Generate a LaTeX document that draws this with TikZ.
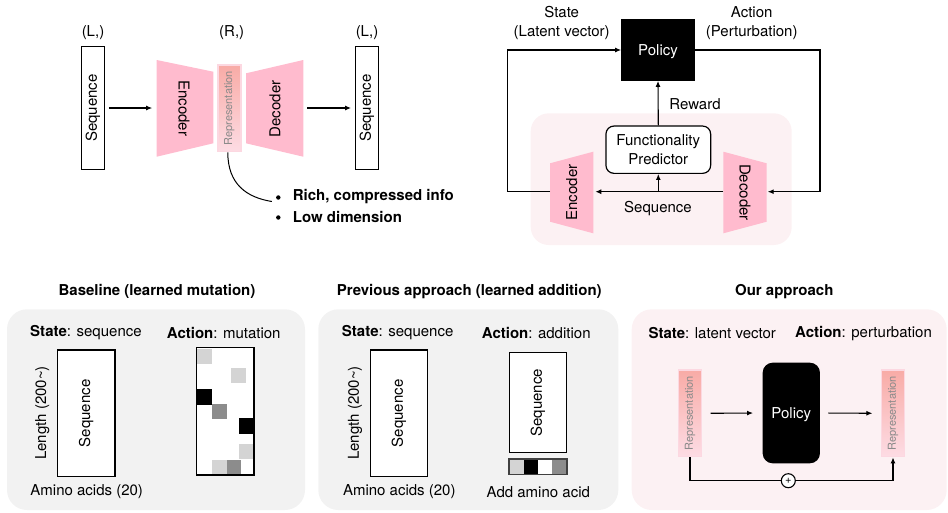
\documentclass[tikz,border=0pt]{standalone}
\usepackage{fontspec}
\usepackage{graphicx}
\setmainfont{TeX Gyre Heros}
\usetikzlibrary{arrows.meta,calc}
\definecolor{trappink}{HTML}{FFBBCE}
\definecolor{reptop}{HTML}{F8ABA6}
\definecolor{repbot}{HTML}{FDDCE4}
\definecolor{repedge}{HTML}{FCD8E1}
\definecolor{repgray}{HTML}{8A8A8A}
\definecolor{panelgray}{HTML}{F2F2F2}
\definecolor{panelpink}{HTML}{FCF1F3}
\definecolor{cellgray}{HTML}{D4D4D4}
\definecolor{cellmid}{HTML}{8C8C8C}
\newcommand\bodyfont{\fontsize{15}{19.5}\selectfont}
\newcommand\myreptxt{\rotatebox{90}{\fontsize{11}{13}\selectfont\color{repgray}Representation}}
\begin{document}
\begin{tikzpicture}[x=1pt,y=-1pt,
  font=\bodyfont,
  every node/.style={inner sep=0pt},
  seqbox/.style={draw=black, line width=1.3pt, fill=white, inner sep=0pt},
  arr/.style={-{Latex[length=6pt,width=5pt]}, line width=1.1pt},
  conn/.style={line width=1.1pt},
  trap/.style={fill=trappink},
  repbox/.style={draw=repedge, line width=1.5pt, top color=reptop, bottom color=repbot, minimum width=23pt, minimum height=86.7pt, inner sep=0pt},
  boldtxt/.style={font=\bodyfont\bfseries},
  bulletdot/.style={circle, fill=black, minimum size=4.4pt},
  policybox/.style={fill=black, text=white, text depth=0pt},
  panel/.style={rounded corners=20pt},
]
\useasboundingbox (0,0) rectangle (948,512);

% ---------------- Top-left: autoencoder ----------------
\node[seqbox, minimum width=22.6pt, minimum height=122.6pt] (seqA) at (93,108) {\rotatebox{90}{Sequence}};
\node (lA) at (93,33) {(L,)};
\path[trap] (156.7,60) -- (213.3,71.7) -- (213.3,143.3) -- (156.7,156.7) -- cycle;
\node[rotate=-90] (encA) at (184,108.3) {Encoder};
\node[repbox] (repA) at (229.3,108.3) {\myreptxt};
\node (rA) at (231.7,33) {(R,)};
\path[trap] (246,73.3) -- (303.3,60) -- (303.3,156.7) -- (246,143.3) -- cycle;
\node[rotate=90] (decA) at (275,109) {Decoder};
\node[seqbox, minimum width=22.6pt, minimum height=122.6pt] (seqB) at (367,108) {\rotatebox{90}{Sequence}};
\node (lB) at (367,33) {(L,)};
\coordinate (encAin) at (156.7,108);
\coordinate (decAout) at (303.3,108);
\draw[arr, shorten <=4pt, shorten >=4.5pt] (seqA.east) -- (encAin);
\draw[arr, shorten <=4pt, shorten >=4pt] (decAout) -- (seqB.west);
\node[bulletdot] (bul1) at (278.3,197.5) {};
\node[anchor=west, boldtxt] (txt1) at (292.7,196.7) {Rich, compressed info};
\node[bulletdot] (bul2) at (278.3,217.5) {};
\node[anchor=west, boldtxt] (txt2) at (292.7,216.7) {Low dimension};
\draw[line width=1pt] ($(repA.south)+(-1.5,0)$) .. controls +(0,32) and +(-25,-4) .. ($(bul1.west)+(-4,4)$);

% ---------------- Top-right: RL loop ----------------
\path[fill=panelpink, rounded corners=18pt] (530.7,113.3) rectangle (791.7,245);
\node[align=center] (stateL) at (561.7,23.2) {State\\(Latent vector)};
\node[align=center] (actL) at (751.7,23.2) {Action\\(Perturbation)};
\node[policybox, minimum width=73.3pt, minimum height=61.4pt] (polA) at (658,50) {Policy};
\node[draw, line width=1.2pt, rounded corners=8pt, fill=white, minimum width=104.7pt, minimum height=47.3pt, align=center] (fp) at (658.3,149.7) {Functionality\\Predictor};
\path[trap] (550,163.3) -- (593.3,151.7) -- (593.3,233.3) -- (550,221.7) -- cycle;
\node[rotate=90] (encB) at (571.7,192.5) {Encoder};
\path[trap] (723.3,151.7) -- (766.7,163.3) -- (766.7,221.7) -- (723.3,233.3) -- cycle;
\node[rotate=-90] (decB) at (745,192.5) {Decoder};
\coordinate (encBl) at (550,191.7);
\coordinate (encBr) at (593.3,191.7);
\coordinate (decBl) at (723.3,191.7);
\coordinate (decBr) at (766.7,191.7);
\coordinate (loopL) at (507.3,50);
\coordinate (loopR) at (820,50);
\coordinate (br) at (658.3,191.7);
\draw[arr] (encBl) -| (loopL) -- (polA.west);
\draw[arr, shorten >=1pt] (polA.east) -- (loopR) |- (decBr);
\draw[arr, shorten >=2pt] (decBl) -- (encBr);
\draw[arr] (br) -- (fp.south);
\draw[arr] (fp.north) -- (polA.south);
\node (rew) at (695,104) {Reward};
\node (seqlab) at (658,208.3) {Sequence};

% ---------------- Bottom titles ----------------
\node[boldtxt] (t1) at (157,291.7) {Baseline (learned mutation)};
\node[boldtxt] (t2) at (469.3,291.7) {Previous approach (learned addition)};
\node[boldtxt] (t3) at (784.3,291.7) {Our approach};

% ---------------- Panel 1 ----------------
\path[panel, fill=panelgray] (7,309.3) rectangle (305,510);
\node[anchor=west] (s1) at (30,332.7) {\textbf{State}: sequence};
\node[anchor=west] (a1) at (166.7,332.7) {\textbf{Action}: mutation};
\node[seqbox, minimum width=57.7pt, minimum height=126.7pt] (seqC) at (86.2,413.3) {\rotatebox{90}{Sequence}};
\node[rotate=90] (len1) at (42.3,413) {Length (200\textasciitilde)};
\node (aa1) at (86.7,491.7) {Amino acids (20)};
\node[fill=white, minimum width=57.3pt, minimum height=127.7pt] (mutgrid) at (225.35,411.15) {};
\fill[cellgray] (196.7,349) rectangle (211.7,364);
\fill[cellgray] (231,367.7) rectangle (246,382.7);
\fill[black] (196.7,389.3) rectangle (211.7,405);
\fill[cellmid] (211.7,404.3) rectangle (226.7,419.3);
\fill[black] (239,418.3) rectangle (254,434);
\fill[cellgray] (239,444.3) rectangle (254,459.3);
\fill[cellgray] (211.7,460) rectangle (226.7,475);
\fill[cellmid] (226.7,460) rectangle (240.7,475);
\node[draw=black, line width=1.4pt, minimum width=57.3pt, minimum height=127.7pt] (mutframe) at (mutgrid.center) {};

% ---------------- Panel 2 ----------------
\path[panel, fill=panelgray] (318.3,309.3) rectangle (618.3,510);
\node[anchor=west] (s2) at (341.7,332.7) {\textbf{State}: sequence};
\node[anchor=west] (a2) at (481.7,332.7) {\textbf{Action}: addition};
\node[seqbox, minimum width=56.6pt, minimum height=126.7pt] (seqD) at (399,413.3) {\rotatebox{90}{Sequence}};
\node[rotate=90] (len2) at (355,413) {Length (200\textasciitilde)};
\node (aa2) at (399.3,491.7) {Amino acids (20)};
\node[seqbox, minimum width=57.4pt, minimum height=100pt] (seqE) at (538,402.7) {\rotatebox{90}{Sequence}};
\node[fill=white, minimum width=57.4pt, minimum height=14.7pt] (strip) at (538,466.65) {};
\fill[cellgray] (509.3,459.3) rectangle (523.65,474);
\fill[black] (523.65,459.3) rectangle (538,474);
\fill[cellmid] (552.35,459.3) rectangle (566.7,474);
\draw[line width=1.4pt, draw=black!75] (strip.north west) rectangle (strip.south east);
\node (add) at (538.3,491.7) {Add amino acid};

% ---------------- Panel 3 ----------------
\path[panel, fill=panelpink] (631.7,309.3) rectangle (946.7,510);
\node[anchor=west] (s3) at (648.3,333.3) {\textbf{State}: latent vector};
\node[anchor=west] (a3) at (795,333.3) {\textbf{Action}: perturbation};
\node[repbox] (repL) at (690,413.3) {\myreptxt};
\node[policybox, rounded corners=10pt, minimum width=57.3pt, minimum height=100.6pt] (polB) at (791.3,413) {Policy};
\node[repbox] (repR) at (893,413.3) {\myreptxt};
\draw[arr, shorten <=8.3pt, shorten >=9.4pt] (repL.east) -- (polB.west);
\draw[arr, shorten <=8.3pt, shorten >=8.4pt] (polB.east) -- (repR.west);
\node[draw, circle, line width=1.1pt, fill=white, minimum size=14pt, font=\fontsize{11}{12}\selectfont] (plus) at (788.3,480.7) {+};
\draw[conn] (repL.south) |- (plus.west);
\draw[arr] (plus.east) -| (repR.south);
\end{tikzpicture}
\end{document}
